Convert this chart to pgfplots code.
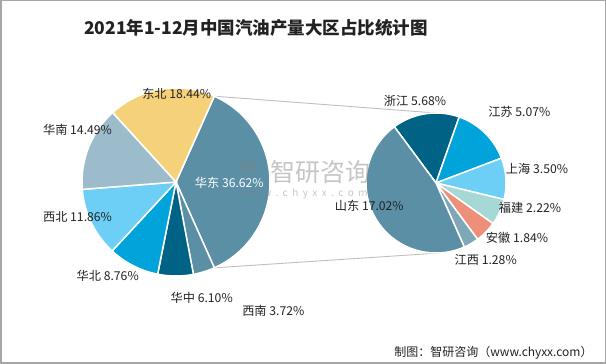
\documentclass[border=0pt]{standalone}
\usepackage{pgfplots}
\pgfplotsset{compat=1.18}
\usepackage{fontspec}
\setmainfont{Noto Sans CJK SC}
\definecolor{cHD}{HTML}{5B8FA6}
\definecolor{cDB}{HTML}{F5D27A}
\definecolor{cHN}{HTML}{9DBCCB}
\definecolor{cXB}{HTML}{6DCFF6}
\definecolor{cHB}{HTML}{00A3DA}
\definecolor{cHZ}{HTML}{006385}
\definecolor{cFJ}{HTML}{A6D8D6}
\definecolor{cAH}{HTML}{EE9079}
\definecolor{cJX}{HTML}{7EA7B8}
\definecolor{cLine}{HTML}{BFBFBF}
\definecolor{cBorder}{HTML}{A6A6A6}
\definecolor{cText}{HTML}{222222}

% #1 cx, #2 cy, #3 r, #4 value, #5 colour ; uses \curang (deg) and \scalefac (deg per unit)
\newcommand\pieslice[5]{%
  \pgfmathsetmacro\angA{\curang}%
  \pgfmathsetmacro\angB{\curang - #4*\scalefac}%
  \edef\tmp{\noexpand\addplot[draw=white, line width=1.5pt, fill=#5, domain=\angB:\angA, samples=80, variable=\noexpand\t] ({#1+#3*cos(\noexpand\t)},{#2+#3*sin(\noexpand\t)}) -- (axis cs:#1,#2) -- cycle;}%
  \tmp
  \global\let\curang\angB
}

\begin{document}
\begin{tikzpicture}
\begin{axis}[x=1pt, y=1pt, xmin=0, xmax=606, ymin=0, ymax=364,
  hide axis, clip=false]

% connector lines
\addplot[cLine, line width=0.9pt] coordinates {(214.4,267.8) (436,251)};
\addplot[cLine, line width=0.9pt] coordinates {(214.4,96.2) (440,111)};

% left pie: shares of China (%)
\def\scalefac{3.6}
\pgfmathsetmacro\curang{36.62*3.6/2}
\global\let\curang\curang
\pieslice{176}{182}{94}{36.62}{cHD}% 华东
\pieslice{176}{182}{94}{3.72}{cHD}%  西南
\pieslice{176}{182}{94}{6.10}{cHZ}%  华中
\pieslice{176}{182}{94}{8.76}{cHB}%  华北
\pieslice{176}{182}{94}{11.86}{cXB}% 西北
\pieslice{176}{182}{94}{14.49}{cHN}% 华南
\pieslice{176}{182}{94}{18.44}{cDB}% 东北

% right pie: split of 华东
\pgfmathsetmacro\scalefac{360/36.61}
\def\curang{126.5}
\pieslice{436}{181}{70}{5.68}{cHZ}%  浙江
\pieslice{436}{181}{70}{5.07}{cHB}%  江苏
\pieslice{436}{181}{70}{3.50}{cXB}%  上海
\pieslice{436}{181}{70}{2.22}{cFJ}%  福建
\pieslice{436}{181}{70}{1.84}{cAH}%  安徽
\pieslice{436}{181}{70}{1.28}{cJX}%  江西
\pieslice{436}{181}{70}{17.02}{cHD}% 山东

% watermark
\node[text=gray, opacity=0.4, inner sep=0pt, font=\fontsize{17}{17}\selectfont\bfseries] at (axis cs:248,198) {Ri};
\node[text=gray, opacity=0.45, font=\fontsize{25}{25}\selectfont] at (axis cs:320,192.3) {智研咨询};
\node[text=gray, opacity=0.45, font=\fontsize{10}{10}\selectfont\addfontfeatures{LetterSpace=45}] at (axis cs:303,170.7) {www.chyxx.com};

% labels
\tikzset{lab/.style={text=cText, font=\fontsize{12.2}{14}\selectfont, inner sep=0pt}}
\node[lab] at (axis cs:176.7,270.7) {东北 18.44\%};
\node[lab] at (axis cs:77.5,234) {华南 14.49\%};
\node[lab, text=white] at (axis cs:229.3,180.7) {华东 36.62\%};
\node[lab] at (axis cs:77.5,147.3) {西北 11.86\%};
\node[lab] at (axis cs:107.7,88) {华北 8.76\%};
\node[lab] at (axis cs:201.7,65.7) {华中 6.10\%};
\node[lab] at (axis cs:273.3,53.3) {西南 3.72\%};
\node[lab] at (axis cs:415,263.3) {浙江 5.68\%};
\node[lab] at (axis cs:519.3,252.3) {江苏 5.07\%};
\node[lab] at (axis cs:537,194.7) {上海 3.50\%};
\node[lab] at (axis cs:530,156.3) {福建 2.22\%};
\node[lab] at (axis cs:517,125.7) {安徽 1.84\%};
\node[lab] at (axis cs:485.7,104) {江西 1.28\%};
\node[lab] at (axis cs:369.3,158) {山东 17.02\%};

% title and source
\node[text=cText, font=\fontsize{17.5}{20}\selectfont\bfseries] at (axis cs:256,336.5) {2021年1-12月中国汽油产量大区占比统计图};
\node[text=cText, font=\fontsize{12}{14}\selectfont, anchor=east, inner sep=0pt] at (axis cs:592.7,11.3) {制图：智研咨询（www.chyxx.com）};

% frame
\draw[cBorder, line width=1.5pt] (axis cs:0.75,0.75) rectangle (axis cs:605.25,363.25);
\end{axis}
\end{tikzpicture}
\end{document}
